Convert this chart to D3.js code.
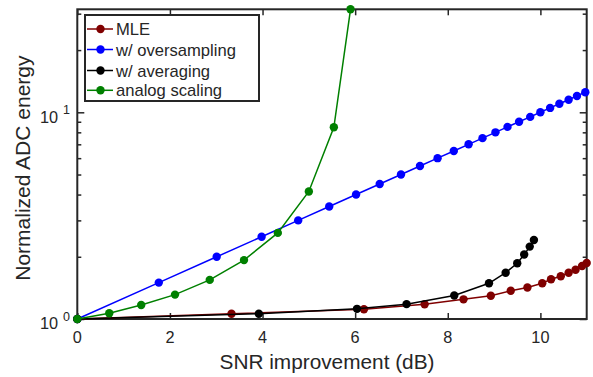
<!DOCTYPE html>
<html>
<head>
<meta charset="utf-8">
<script src="https://cdn.jsdelivr.net/npm/d3@7"></script>
<style>
  html, body { margin: 0; padding: 0; background: #fff; }
  svg { display: block; }
  text { font-family: "Liberation Sans", Arial, Helvetica, sans-serif; fill: #262626; }
</style>
</head>
<body>
<svg id="chart" width="593" height="377"></svg>
<script>
// ---------- data ----------
const seriesNames = ["MLE", "w/ oversampling", "w/ averaging", "analog scaling"];
const seriesColors = ["#800000", "#0000ff", "#000000", "#008000"];

const mleX = [0, 3.33, 6.19, 7.50, 8.34, 8.93, 9.36, 9.72, 10.04, 10.23, 10.44, 10.61, 10.76, 10.90, 11.0];
const mleY = [1, 1.06, 1.114, 1.178, 1.245, 1.296, 1.37, 1.42, 1.49, 1.556, 1.61, 1.675, 1.73, 1.805, 1.866];

const overX = [0, 1.76, 3.01, 3.98, 4.77, 5.44, 6.02, 6.53, 6.99, 7.40, 7.78, 8.13, 8.45, 8.75, 9.03, 9.29, 9.54, 9.78, 10.0, 10.21, 10.41, 10.61, 10.79, 10.97];
const overY = [1, 1.5, 2, 2.5, 3, 3.5, 4, 4.5, 5, 5.5, 6, 6.5, 7, 7.5, 8, 8.5, 9, 9.5, 10, 10.5, 11, 11.5, 12, 12.5];

const avgX = [0, 3.92, 6.04, 7.11, 8.14, 8.89, 9.25, 9.50, 9.65, 9.77, 9.86];
const avgY = [1, 1.061, 1.12, 1.18, 1.30, 1.488, 1.675, 1.86, 2.05, 2.24, 2.41];

const anaX = [0, 0.69, 1.38, 2.11, 2.86, 3.60, 4.33, 5.00, 5.54, 5.90];
const anaY = [1, 1.066, 1.169, 1.312, 1.546, 1.927, 2.61, 4.14, 8.46, 31.5];

const xTicks = [0, 2, 4, 6, 8, 10];
const yMajorTicks = [1, 10];
const yMajorExp = ["0", "1"];
const yMinorTicks = [2, 3, 4, 5, 6, 7, 8, 9, 20, 30];
const xDomain = [0, 11];
const yDomain = [1, 31.5];

const xLabel = "SNR improvement (dB)";
const yLabel = "Normalized ADC energy";

// ---------- layout ----------
const svg = d3.select("#chart");
const L = 77.3, R = 586.7, T = 9.3, B = 319;
const axisColor = "#262626";

const x = d3.scaleLinear().domain(xDomain).range([L, R]);
const y = d3.scaleLog().domain(yDomain).range([B, T]);

const series = [
  { name: seriesNames[0], color: seriesColors[0], xs: mleX, ys: mleY },
  { name: seriesNames[1], color: seriesColors[1], xs: overX, ys: overY },
  { name: seriesNames[2], color: seriesColors[2], xs: avgX, ys: avgY },
  { name: seriesNames[3], color: seriesColors[3], xs: anaX, ys: anaY }
];

// ---------- ticks (inward, on all four sides) ----------
function styleAxis(g) {
  g.select(".domain").remove();
  g.selectAll(".tick line").attr("stroke", axisColor).attr("stroke-width", 1.5);
  g.selectAll(".tick text").remove();
}
svg.append("g").attr("transform", `translate(0,${B})`)
  .call(d3.axisBottom(x).tickValues(xTicks).tickSizeInner(-6).tickSizeOuter(0)).call(styleAxis);
svg.append("g").attr("transform", `translate(0,${T})`)
  .call(d3.axisTop(x).tickValues(xTicks).tickSizeInner(-6).tickSizeOuter(0)).call(styleAxis);
svg.append("g").attr("transform", `translate(${L},0)`)
  .call(d3.axisLeft(y).tickValues(yMajorTicks).tickSizeInner(-7).tickSizeOuter(0)).call(styleAxis);
svg.append("g").attr("transform", `translate(${L},0)`)
  .call(d3.axisLeft(y).tickValues(yMinorTicks).tickSizeInner(-4).tickSizeOuter(0)).call(styleAxis);
svg.append("g").attr("transform", `translate(${R},0)`)
  .call(d3.axisRight(y).tickValues(yMajorTicks).tickSizeInner(-7).tickSizeOuter(0)).call(styleAxis);
svg.append("g").attr("transform", `translate(${R},0)`)
  .call(d3.axisRight(y).tickValues(yMinorTicks).tickSizeInner(-4).tickSizeOuter(0)).call(styleAxis);

// box
svg.append("rect").attr("x", L).attr("y", T).attr("width", R - L).attr("height", B - T)
  .attr("fill", "none").attr("stroke", axisColor).attr("stroke-width", 2);

// tick labels
svg.append("g").selectAll("text").data(xTicks).join("text")
  .attr("x", d => x(d)).attr("y", 343.3).attr("text-anchor", "middle")
  .attr("font-size", 16.3).text(d => d);

const yl = svg.append("g").selectAll("g").data(yMajorTicks).join("g");
yl.append("text").attr("x", 58).attr("y", d => y(d) + 10.3).attr("text-anchor", "end")
  .attr("font-size", 16.3).text("10");
yl.append("text").attr("x", 63).attr("y", (d) => y(d) + 1.7).attr("text-anchor", "start")
  .attr("font-size", 12.5).text((d, i) => yMajorExp[i]);

// axis labels
svg.append("text").attr("x", 327).attr("y", 369).attr("text-anchor", "middle")
  .attr("font-size", 20.8).text(xLabel);
svg.append("text").attr("transform", `translate(30,${(T + B) / 2 + 4}) rotate(-90)`)
  .attr("text-anchor", "middle").attr("font-size", 21).text(yLabel);

// ---------- series ----------
const line = d3.line().x(d => x(d[0])).y(d => y(d[1]));
series.forEach(s => {
  const pts = s.xs.map((v, i) => [v, s.ys[i]]);
  const g = svg.append("g");
  g.append("path").datum(pts).attr("d", line).attr("fill", "none")
    .attr("stroke", s.color).attr("stroke-width", 1.5);
  g.selectAll("circle").data(pts).join("circle")
    .attr("cx", d => x(d[0])).attr("cy", d => y(d[1])).attr("r", 4.2)
    .attr("fill", s.color);
});

// ---------- legend ----------
const lg = svg.append("g");
lg.append("rect").attr("x", 85).attr("y", 15).attr("width", 174).attr("height", 86)
  .attr("fill", "#fff").attr("stroke", axisColor).attr("stroke-width", 2);
const rowY = [29, 49.5, 70.5, 90.3];
series.forEach((s, i) => {
  const yy = rowY[i];
  lg.append("line").attr("x1", 87).attr("x2", 113).attr("y1", yy).attr("y2", yy)
    .attr("stroke", s.color).attr("stroke-width", 1.5);
  lg.append("circle").attr("cx", 100.5).attr("cy", yy).attr("r", 4.2).attr("fill", s.color);
  lg.append("text").attr("x", 116).attr("y", yy + 6).attr("font-size", 16.6).text(s.name);
});
</script>
</body>
</html>
